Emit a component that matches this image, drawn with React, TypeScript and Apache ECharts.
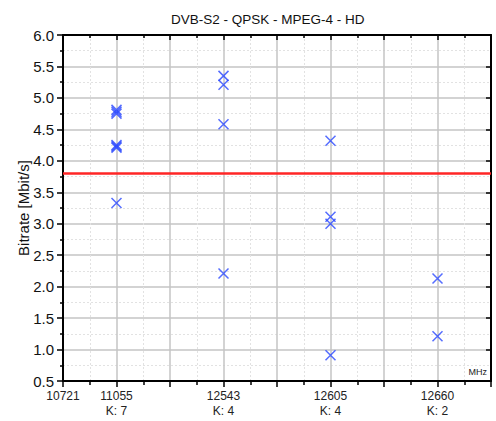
import React, { useEffect, useRef } from "react";
import * as echarts from "echarts";

const titleText = "DVB-S2 - QPSK - MPEG-4 - HD";
const yAxisName = "Bitrate [Mbit/s]";
const unitLabel = "MHz";
const startFreq = "10721";
const positions = [1, 3, 5, 7];
const frequencies = ["11055", "12543", "12605", "12660"];
const bitrates = [
  [4.81, 4.78, 4.75, 4.25, 4.23, 4.21, 3.33],
  [5.35, 5.21, 4.58, 2.21],
  [4.32, 3.11, 3.0, 0.91],
  [2.13, 1.21],
];
const threshold = 3.8;

export default function App() {
  const ref = useRef<HTMLDivElement>(null);
  useEffect(() => {
    if (!ref.current) return;
    const chart = echarts.init(ref.current, undefined, { renderer: "svg" });
    const data: number[][] = [];
    positions.forEach((p, i) => bitrates[i].forEach((v) => data.push([p, v])));
    const labelFor = (v: number) => {
      if (Math.abs(v) < 1e-6) return startFreq;
      const i = positions.findIndex((p) => Math.abs(p - v) < 1e-6);
      if (i < 0) return "";
      return frequencies[i] + "\nK: " + bitrates[i].length;
    };
    const font = "Liberation Sans, Arial, sans-serif";
    chart.setOption({
      animation: false,
      title: {
        text: titleText,
        left: 166,
        top: 7,
        textStyle: { fontSize: 13.5, fontWeight: "normal", color: "#111", fontFamily: font },
      },
      grid: { left: 63, right: 5, top: 35, bottom: 40, containLabel: false },
      xAxis: [
        {
          type: "value",
          min: 0,
          max: 8,
          interval: 1,
          position: "bottom",
          axisLine: { show: true, onZero: false, lineStyle: { color: "#000", width: 2 } },
          axisTick: { show: true, inside: false, length: 6, lineStyle: { color: "#000", width: 1.5 } },
          minorTick: { show: true, splitNumber: 2, length: 4, lineStyle: { color: "#000", width: 1.5 } },
          axisLabel: {
            formatter: labelFor,
            fontSize: 12,
            color: "#222",
            fontFamily: font,
            lineHeight: 15,
            margin: 7,
            showMinLabel: true,
            showMaxLabel: false,
          },
          splitLine: { show: true, lineStyle: { color: "#c4c4c4", width: 1.5 } },
          minorSplitLine: { show: true, lineStyle: { color: "#e2e2e2", width: 1, type: [2, 2] } },
        },
        {
          type: "value",
          min: 0,
          max: 8,
          interval: 1,
          position: "top",
          axisLine: { show: true, onZero: false, lineStyle: { color: "#000", width: 2 } },
          axisTick: { show: true, inside: true, length: 5, lineStyle: { color: "#000", width: 1.5 } },
          minorTick: { show: true, splitNumber: 2, length: 3, lineStyle: { color: "#000", width: 1.5 } },
          axisLabel: { show: false },
          splitLine: { show: false },
        },
      ],
      yAxis: [
        {
          type: "value",
          min: 0.5,
          max: 6,
          interval: 0.5,
          position: "left",
          name: yAxisName,
          nameLocation: "middle",
          nameGap: 32,
          nameMoveOverlap: false,
          nameTextStyle: { fontSize: 15, color: "#111", fontFamily: font },
          axisLine: { show: true, onZero: false, lineStyle: { color: "#000", width: 2 } },
          axisTick: { show: true, inside: false, length: 6, lineStyle: { color: "#000", width: 1.5 } },
          minorTick: { show: true, splitNumber: 2, length: 3, lineStyle: { color: "#000", width: 1.5 } },
          axisLabel: {
            formatter: (v: number) => v.toFixed(1),
            fontSize: 15,
            color: "#111",
            fontFamily: font,
            margin: 9,
          },
          splitLine: { show: true, lineStyle: { color: "#c4c4c4", width: 1.5 } },
          minorSplitLine: { show: true, lineStyle: { color: "#e2e2e2", width: 1, type: [2, 2] } },
        },
        {
          type: "value",
          min: 0.5,
          max: 6,
          interval: 0.5,
          position: "right",
          axisLine: { show: true, onZero: false, lineStyle: { color: "#000", width: 2 } },
          axisTick: { show: true, inside: true, length: 5, lineStyle: { color: "#000", width: 1.5 } },
          minorTick: { show: false },
          axisLabel: { show: false },
          splitLine: { show: false },
        },
      ],
      series: [
        {
          type: "scatter",
          xAxisIndex: 0,
          yAxisIndex: 0,
          data,
          symbol: "path://M0,0L10,10M10,0L0,10",
          symbolSize: 10,
          itemStyle: { color: "none", borderColor: "#2a48ff", borderWidth: 1.5 },
          z: 5,
          markLine: {
            silent: true,
            symbol: "none",
            label: { show: false },
            lineStyle: { color: "#ff2626", width: 2.5, type: "solid" },
            data: [{ yAxis: threshold }],
          },
        },
      ],
      graphic: [
        {
          type: "text",
          right: 8,
          top: 366,
          z: 10,
          style: {
            text: unitLabel,
            fontSize: 9,
            fill: "#222",
            fontFamily: font,
            backgroundColor: "#fff",
            padding: [1, 1],
          },
        },
      ],
    });
    return () => chart.dispose();
  }, []);
  return <div ref={ref} style={{ width: 496, height: 421, position: "absolute", left: 0, top: 0 }} />;
}
